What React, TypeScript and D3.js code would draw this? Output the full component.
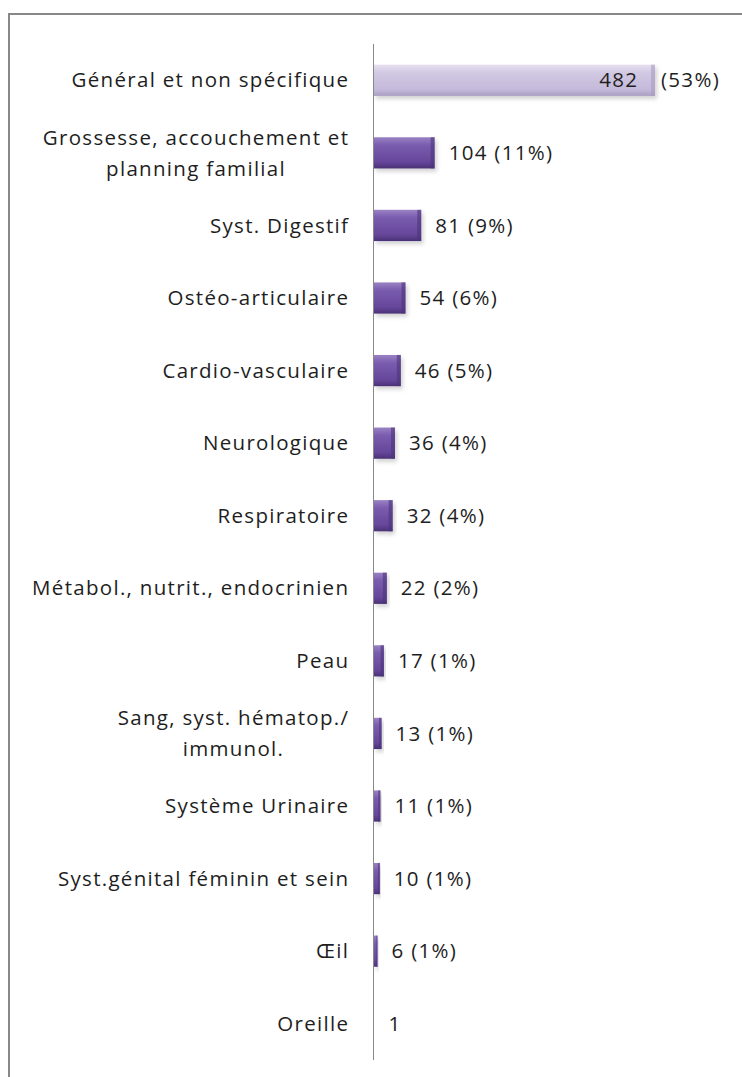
import React, { useRef, useEffect } from "react";
import * as d3 from "d3";

const categories = [
  ["Général et non spécifique"],
  ["Grossesse, accouchement et", "planning familial"],
  ["Syst. Digestif"],
  ["Ostéo-articulaire"],
  ["Cardio-vasculaire"],
  ["Neurologique"],
  ["Respiratoire"],
  ["Métabol., nutrit., endocrinien"],
  ["Peau"],
  ["Sang, syst. hématop./", "immunol."],
  ["Système Urinaire"],
  ["Syst.génital féminin et sein"],
  ["Œil"],
  ["Oreille"],
];
const counts = [482, 104, 81, 54, 46, 36, 32, 22, 17, 13, 11, 10, 6, 1];
const percents = [53, 11, 9, 6, 5, 4, 4, 2, 1, 1, 1, 1, 1, null];

const W = 742;
const H = 1077;

function App() {
  const ref = useRef<SVGSVGElement>(null);

  useEffect(() => {
    const svg = d3.select(ref.current);
    svg.selectAll("*").remove();
    const font = "'Open Sans', sans-serif";
    const fs = 20.5;
    const ls = 1.3;
    const ink = "#1e1e1e";

    const defs = svg.append("defs");
    const dark = defs.append("linearGradient").attr("id", "gDark").attr("x1", 0).attr("y1", 0).attr("x2", 0).attr("y2", 1);
    dark.append("stop").attr("offset", "0%").attr("stop-color", "#9a82c4");
    dark.append("stop").attr("offset", "25%").attr("stop-color", "#7a5cae");
    dark.append("stop").attr("offset", "80%").attr("stop-color", "#65469a");
    dark.append("stop").attr("offset", "100%").attr("stop-color", "#4a3175");
    const light = defs.append("linearGradient").attr("id", "gLight").attr("x1", 0).attr("y1", 0).attr("x2", 0).attr("y2", 1);
    light.append("stop").attr("offset", "0%").attr("stop-color", "#e6e0f0");
    light.append("stop").attr("offset", "25%").attr("stop-color", "#d2c9e3");
    light.append("stop").attr("offset", "80%").attr("stop-color", "#c4b9da");
    light.append("stop").attr("offset", "100%").attr("stop-color", "#a99dc2");
    const shadow = defs.append("filter").attr("id", "shadow").attr("x", "-10%").attr("y", "-20%").attr("width", "130%").attr("height", "160%");
    shadow.append("feDropShadow").attr("dx", 2).attr("dy", 3).attr("stdDeviation", 2).attr("flood-color", "#000").attr("flood-opacity", 0.18);

    // frame
    svg.append("rect")
      .attr("x", 9).attr("y", 14).attr("width", W).attr("height", H)
      .attr("fill", "#fff").attr("stroke", "#888").attr("stroke-width", 2);

    const x = d3.scaleLinear().domain([0, 482]).range([374, 655]);
    const y = d3.scaleBand<number>()
      .domain(d3.range(categories.length))
      .range([44, 1060])
      .paddingInner(0.57)
      .paddingOuter(0.285);

    const g = svg.append("g");
    counts.forEach((v, i) => {
      const x0 = x(0);
      const w = x(v) - x0;
      const y0 = y(i)!;
      const h = y.bandwidth();
      if (w < 0.8) return;
      const bar = g.append("g").attr("filter", "url(#shadow)");
      bar.append("rect")
        .attr("x", x0).attr("y", y0).attr("width", w).attr("height", h)
        .attr("fill", i === 0 ? "url(#gLight)" : "url(#gDark)");
      // bevel on right edge
      const bev = Math.min(4, w / 3);
      bar.append("rect")
        .attr("x", x0 + w - bev).attr("y", y0).attr("width", bev).attr("height", h)
        .attr("fill", i === 0 ? "#a99cc3" : "#4d3379").attr("opacity", 0.6);
    });

    // axis line
    svg.append("line")
      .attr("x1", 373.5).attr("x2", 373.5).attr("y1", 44).attr("y2", 1060)
      .attr("stroke", "#888").attr("stroke-width", 1);

    const addText = (tx: number, ty: number, s: string, anchor: string) =>
      svg.append("text")
        .attr("x", anchor === "end" ? tx + ls : anchor === "middle" ? tx + ls / 2 : tx)
        .attr("y", ty).attr("dy", "0.35em")
        .attr("text-anchor", anchor)
        .attr("letter-spacing", ls)
        .attr("font-family", font).attr("font-size", fs).attr("fill", ink)
        .text(s);

    // category labels
    categories.forEach((lines, i) => {
      const cy = y(i)! + y.bandwidth() / 2;
      if (lines.length === 1) {
        addText(348, cy, lines[0], "end");
      } else {
        const t1 = addText(348, cy - 15.5, lines[0], "end");
        const w1 = (t1.node() as SVGTextElement).getComputedTextLength() - ls;
        addText(348 - w1 / 2, cy + 15.5, lines[1], "middle");
      }
    });

    // value labels
    counts.forEach((v, i) => {
      const cy = y(i)! + y.bandwidth() / 2;
      const p = percents[i];
      if (i === 0) {
        addText(x(v) - 18, cy, String(v), "end");
        addText(x(v) + 6, cy, `(${p}%)`, "start");
      } else {
        addText(x(v) + 14, cy, p == null ? String(v) : `${v} (${p}%)`, "start");
      }
    });
  }, []);

  return (
    <svg
      ref={ref}
      width={W}
      height={H}
      style={{ position: "absolute", left: 0, top: 0, background: "#fff" }}
    />
  );
}

export default App;
